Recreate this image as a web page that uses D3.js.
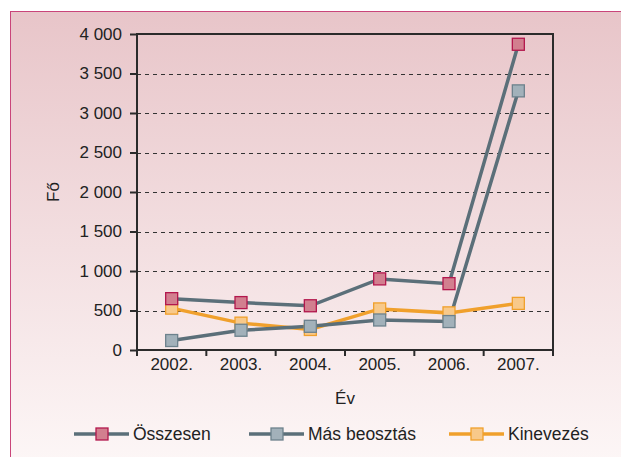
<!DOCTYPE html>
<html>
<head>
<meta charset="utf-8">
<script src="https://cdn.jsdelivr.net/npm/d3@7"></script>
<style>
  body { margin: 0; background: #fff; }
  svg { display: block; font-family: "Liberation Sans", Arial, sans-serif; }
  .axis text { font-size: 17px; fill: #222; }
</style>
</head>
<body>
<div id="chart"></div>
<script>
var years = ["2002.", "2003.", "2004.", "2005.", "2006.", "2007."];
var osszesen = [650, 600, 560, 900, 840, 3870];
var masBeosztas = [120, 250, 300, 380, 360, 3280];
var kinevezes = [530, 340, 260, 520, 470, 590];
var yTicks = [0, 500, 1000, 1500, 2000, 2500, 3000, 3500, 4000];

var series = [
    { name: "Összesen", values: osszesen, line: "#5b6f79", fill: "#d27f8f", stroke: "#b3174d" },
    { name: "Más beosztás", values: masBeosztas, line: "#5b6f79", fill: "#a2b1ba", stroke: "#6d828d" },
    { name: "Kinevezés", values: kinevezes, line: "#f0a02c", fill: "#f8c98a", stroke: "#f0a02c" }
];

var W = 621, H = 457;
var margin = { top: 34, right: 68, bottom: 107, left: 137 },
    width = W - margin.left - margin.right,
    height = H - margin.top - margin.bottom;

var svg = d3.select("#chart").append("svg")
    .attr("width", W)
    .attr("height", H);

// background panel
var grad = svg.append("defs").append("linearGradient")
    .attr("id", "bg").attr("x1", 0).attr("y1", 0).attr("x2", 0).attr("y2", 1);
grad.append("stop").attr("offset", "0%").attr("stop-color", "#e8c5c9");
grad.append("stop").attr("offset", "100%").attr("stop-color", "#fdf7f7");

svg.append("rect")
    .attr("x", 10.5).attr("y", 11.5)
    .attr("width", W).attr("height", H)
    .attr("fill", "url(#bg)")
    .attr("stroke", "#c9457a")
    .attr("stroke-width", 1);

var g = svg.append("g")
    .attr("transform", "translate(" + margin.left + "," + margin.top + ")");

var x = d3.scaleBand()
    .domain(years)
    .range([0, width]);

var y = d3.scaleLinear()
    .domain([0, 4000])
    .range([height, 0]);

// gridlines
g.selectAll(".grid")
    .data(yTicks.filter(d => d > 0 && d < 4000))
    .enter().append("line")
    .attr("x1", 0).attr("x2", width)
    .attr("y1", d => Math.round(y(d)) + 0.5)
    .attr("y2", d => Math.round(y(d)) + 0.5)
    .attr("stroke", "#333")
    .attr("stroke-width", 1)
    .attr("stroke-dasharray", "4,4");

// frame
g.append("rect")
    .attr("x", 0).attr("y", 0)
    .attr("width", width).attr("height", height)
    .attr("fill", "none")
    .attr("stroke", "#2b2b2b")
    .attr("stroke-width", 2);

// y axis
var yAxis = g.append("g")
    .attr("class", "axis")
    .call(d3.axisLeft(y)
        .tickValues(yTicks)
        .tickSize(7)
        .tickPadding(8)
        .tickFormat(d => d3.format(",")(d).replace(",", " ")));
yAxis.select(".domain").remove();
yAxis.selectAll("line").attr("stroke", "#2b2b2b").attr("stroke-width", 2);

// x axis
var xAxis = g.append("g")
    .attr("class", "axis")
    .attr("transform", "translate(0," + height + ")")
    .call(d3.axisBottom(x).tickSize(0).tickPadding(8));
xAxis.select(".domain").remove();

g.selectAll(".xtick")
    .data(years.concat(["end"]))
    .enter().append("line")
    .attr("x1", (d, i) => i * x.bandwidth())
    .attr("x2", (d, i) => i * x.bandwidth())
    .attr("y1", height).attr("y2", height + 6)
    .attr("stroke", "#2b2b2b")
    .attr("stroke-width", 2);

// lines (drawn back to front: Kinevezés, Más beosztás, Összesen)
var line = d3.line()
    .x((d, i) => x(years[i]) + x.bandwidth() / 2)
    .y(d => y(d));

var drawOrder = series.slice().reverse();

drawOrder.forEach(s => {
    g.append("path")
        .datum(s.values)
        .attr("fill", "none")
        .attr("stroke", s.line)
        .attr("stroke-width", 3.5)
        .attr("d", line);
});

drawOrder.forEach(s => {
    g.selectAll(null)
        .data(s.values)
        .enter().append("rect")
        .attr("x", (d, i) => x(years[i]) + x.bandwidth() / 2 - 6)
        .attr("y", d => y(d) - 6)
        .attr("width", 12).attr("height", 12)
        .attr("fill", s.fill)
        .attr("stroke", s.stroke)
        .attr("stroke-width", 1.3);
});

// axis titles
svg.append("text")
    .attr("transform", "translate(59," + (margin.top + height / 2) + ") rotate(-90)")
    .attr("text-anchor", "middle")
    .style("font-size", "17px")
    .attr("fill", "#222")
    .text("Fő");

svg.append("text")
    .attr("x", margin.left + width / 2)
    .attr("y", 404)
    .attr("text-anchor", "middle")
    .style("font-size", "17px")
    .attr("fill", "#222")
    .text("Év");

// legend
var legendX = [74, 249, 449];
var legend = svg.selectAll(".legend")
    .data(series)
    .enter().append("g")
    .attr("transform", (d, i) => "translate(" + legendX[i] + ",434)");

legend.append("line")
    .attr("x1", 0).attr("x2", 55)
    .attr("stroke", d => d.line)
    .attr("stroke-width", 3.5);

legend.append("rect")
    .attr("x", 22).attr("y", -6)
    .attr("width", 12).attr("height", 12)
    .attr("fill", d => d.fill)
    .attr("stroke", d => d.stroke)
    .attr("stroke-width", 1.3);

legend.append("text")
    .attr("x", 59)
    .attr("y", 6)
    .style("font-size", "17.5px")
    .attr("fill", "#222")
    .text(d => d.name);
</script>
</body>
</html>
